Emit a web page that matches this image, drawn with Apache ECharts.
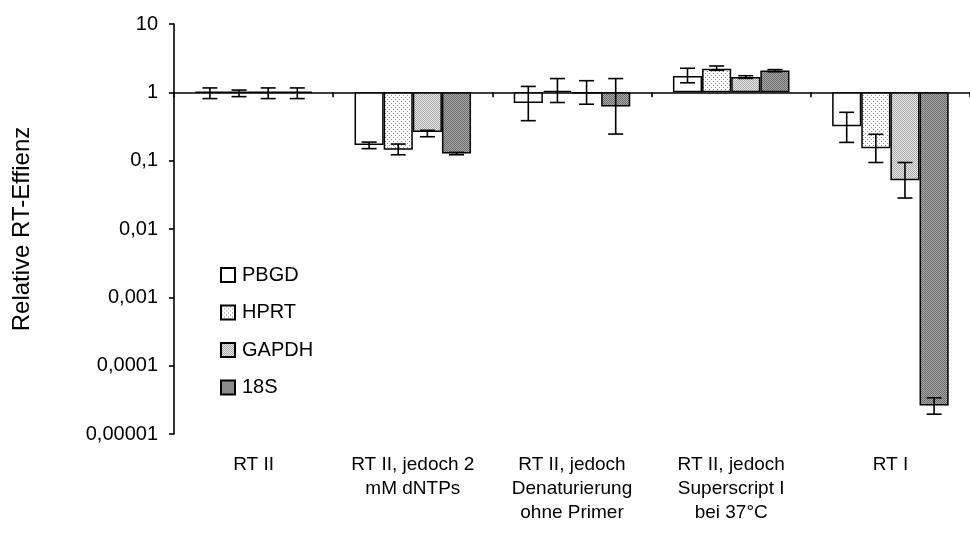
<!DOCTYPE html>
<html>
<head>
<meta charset="utf-8">
<script src="https://cdn.jsdelivr.net/npm/echarts@6/dist/echarts.min.js"></script>
<style>
html,body{margin:0;padding:0;background:#fff;}
#chart{width:970px;height:535px;}
</style>
</head>
<body>
<div id="chart"></div>
<script>
// ---- data ----
const categories = ['RT II', 'RT II, jedoch 2\nmM dNTPs', 'RT II, jedoch\nDenaturierung\nohne Primer', 'RT II, jedoch\nSuperscript I\nbei 37°C', 'RT I'];
const seriesNames = ['PBGD', 'HPRT', 'GAPDH', '18S'];
const tickLabels = ['0,00001', '0,0001', '0,001', '0,01', '0,1', '1', '10'];

const pbgd      = [1, 0.17, 0.70, 1.73, 0.32];
const pbgdLow   = [0.81, 0.15, 0.385, 1.38, 0.185];
const pbgdHigh  = [1.16, 0.187, 1.22, 2.25, 0.51];

const hprt      = [1, 0.145, 1.05, 2.22, 0.152];
const hprtLow   = [0.865, 0.122, 0.71, 2.10, 0.094];
const hprtHigh  = [1.08, 0.175, 1.59, 2.43, 0.243];

const gapdh     = [1, 0.262, 0.98, 1.68, 0.0515];
const gapdhLow  = [0.81, 0.224, 0.67, 1.60, 0.0284];
const gapdhHigh = [1.16, 0.278, 1.48, 1.75, 0.094];

const s18       = [1, 0.127, 0.62, 2.08, 0.0000261];
const s18Low    = [0.81, 0.122, 0.245, 2.00, 0.0000195];
const s18High   = [1.16, 0.132, 1.59, 2.15, 0.0000339];

const values = [pbgd, hprt, gapdh, s18];
const lows = [pbgdLow, hprtLow, gapdhLow, s18Low];
const highs = [pbgdHigh, hprtHigh, gapdhHigh, s18High];

// ---- fill patterns ----
function makePattern(size, bg, dots) {
  const c = document.createElement('canvas');
  c.width = size; c.height = size;
  const ctx = c.getContext('2d');
  ctx.fillStyle = bg; ctx.fillRect(0, 0, size, size);
  dots.forEach(function (d) { ctx.fillStyle = d[2]; ctx.fillRect(d[0], d[1], 1, 1); });
  return { image: c, repeat: 'repeat' };
}
const fills = [
  '#ffffff',
  makePattern(4, '#ffffff', [[1, 1, '#909090'], [3, 3, '#909090']]),
  makePattern(2, '#e8e8e8', [[0, 0, '#a8a8a8'], [1, 1, '#a8a8a8']]),
  makePattern(2, '#a8a8a8', [[0, 0, '#6c6c6c'], [1, 1, '#6c6c6c']])
];

const L = Math.log10;
const BAR_RATIO = 0.183;
const FONT = 'Liberation Sans';

const barSeries = seriesNames.map(function (name, k) {
  return {
    name: name,
    type: 'bar',
    xAxisIndex: 0,
    barWidth: (BAR_RATIO * 100) + '%',
    barGap: '0%',
    itemStyle: { color: fills[k], borderColor: '#000', borderWidth: 1.5 },
    data: values[k].map(function (v) { return L(v); }),
    z: 2
  };
});

const errData = [];
seriesNames.forEach(function (name, k) {
  values[k].forEach(function (v, i) {
    errData.push([i, L(lows[k][i]), L(highs[k][i]), k]);
  });
});

const errSeries = {
  type: 'custom',
  xAxisIndex: 0,
  z: 5,
  silent: true,
  data: errData,
  encode: { x: 0, y: [1, 2] },
  renderItem: function (params, api) {
    const cat = api.value(0), lo = api.value(1), hi = api.value(2), k = api.value(3);
    const band = api.size([1, 0])[0];
    const bw = band * BAR_RATIO;
    const cx = api.coord([cat, 0])[0] + (k - 1.5) * bw;
    const yLo = api.coord([cat, lo])[1];
    const yHi = api.coord([cat, hi])[1];
    const hw = 7.5;
    const st = { stroke: '#000', lineWidth: 1.6 };
    return {
      type: 'group',
      children: [
        { type: 'line', shape: { x1: cx, y1: yLo, x2: cx, y2: yHi }, style: st },
        { type: 'line', shape: { x1: cx - hw, y1: yLo, x2: cx + hw, y2: yLo }, style: st },
        { type: 'line', shape: { x1: cx - hw, y1: yHi, x2: cx + hw, y2: yHi }, style: st }
      ]
    };
  }
};

const chart = echarts.init(document.getElementById('chart'), null, { renderer: 'canvas' });
chart.setOption({
  animation: false,
  backgroundColor: '#ffffff',
  textStyle: { fontFamily: FONT, color: '#000' },
  grid: { left: 174, top: 24, width: 805, height: 410, containLabel: false },
  legend: {
    orient: 'vertical',
    left: 215,
    top: 260,
    data: seriesNames,
    icon: 'rect',
    itemWidth: 14,
    itemHeight: 14,
    itemGap: 17.5,
    textStyle: { fontFamily: FONT, fontSize: 20, color: '#000', padding: [0, 0, 0, 2] }
  },
  xAxis: [
    {
      type: 'category',
      data: categories,
      axisLine: { onZero: true, lineStyle: { color: '#000', width: 1.6 } },
      axisTick: { show: true, length: 5, lineStyle: { color: '#000', width: 1.6 } },
      axisLabel: { show: false },
      splitLine: { show: false }
    },
    {
      type: 'category',
      data: categories,
      position: 'bottom',
      axisLine: { show: false, onZero: false },
      axisTick: { show: false },
      axisLabel: { show: true, margin: 19, fontFamily: FONT, fontSize: 19, color: '#000', lineHeight: 24, interval: 0 },
      splitLine: { show: false }
    }
  ],
  yAxis: {
    type: 'value',
    min: -5,
    max: 1,
    interval: 1,
    name: 'Relative RT-Effienz',
    nameLocation: 'middle',
    nameGap: 140,
    nameRotate: 90,
    nameTextStyle: { fontFamily: FONT, fontSize: 24, color: '#000' },
    axisLine: { show: true, lineStyle: { color: '#000', width: 1.6 } },
    axisTick: { show: true, length: 5, lineStyle: { color: '#000', width: 1.6 } },
    axisLabel: {
      margin: 16, fontFamily: FONT, fontSize: 20, color: '#000',
      formatter: function (v) { return tickLabels[Math.round(v) + 5]; }
    },
    splitLine: { show: false }
  },
  series: barSeries.concat([errSeries])
});
</script>
</body>
</html>
